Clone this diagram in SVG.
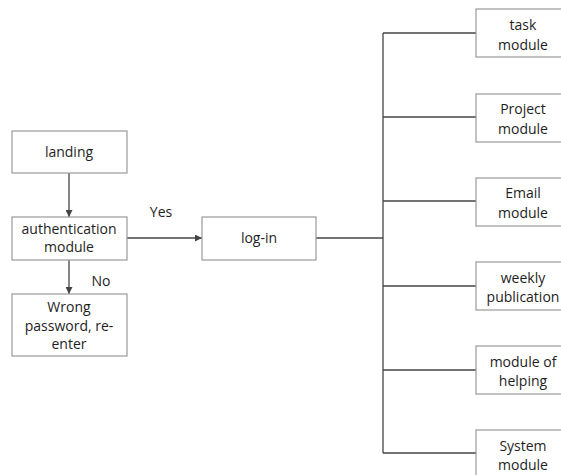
<svg xmlns="http://www.w3.org/2000/svg" width="561" height="475" viewBox="0 0 561 475">
  <style>
    .box { fill: #ffffff; stroke: #9a9a9a; stroke-width: 1.2; }
    .lbl { font-family: "Open Sans", "Liberation Sans", sans-serif; font-size: 14px; fill: #1e1e1e; text-anchor: middle; }
    .edge { fill: none; stroke: #444444; stroke-width: 1.3; }
  </style>
  <defs>
    <marker id="arrow" viewBox="0 0 10 10" refX="10" refY="5" markerWidth="7" markerHeight="7" markerUnits="userSpaceOnUse" orient="auto">
      <path d="M0,0 L10,5 L0,10 z" fill="#444444"/>
    </marker>
  </defs>
  <rect width="561" height="475" fill="#ffffff"/>

  <g id="connectors">
    <line class="edge" x1="69" y1="173" x2="69" y2="217" marker-end="url(#arrow)"/>
    <line class="edge" x1="69" y1="260" x2="69" y2="294" marker-end="url(#arrow)"/>
    <line class="edge" x1="127" y1="238" x2="202" y2="238" marker-end="url(#arrow)"/>
    <line class="edge" x1="316" y1="238" x2="383" y2="238"/>
    <line class="edge" x1="383" y1="33" x2="383" y2="453"/>
    <line class="edge" x1="383" y1="33" x2="476" y2="33"/>
    <line class="edge" x1="383" y1="117" x2="476" y2="117"/>
    <line class="edge" x1="383" y1="201" x2="476" y2="201"/>
    <line class="edge" x1="383" y1="286" x2="476" y2="286"/>
    <line class="edge" x1="383" y1="370" x2="476" y2="370"/>
    <line class="edge" x1="383" y1="453" x2="476" y2="453"/>
    <text class="lbl" x="161" y="217">Yes</text>
    <text class="lbl" x="101" y="286">No</text>
  </g>

  <g id="landing">
    <rect class="box" x="12" y="131" width="115" height="42"/>
    <text class="lbl" x="69" y="157">landing</text>
  </g>
  <g id="authentication">
    <rect class="box" x="12" y="217" width="115" height="43"/>
    <text class="lbl" x="69" y="234">authentication</text>
    <text class="lbl" x="69" y="252">module</text>
  </g>
  <g id="wrong-password">
    <rect class="box" x="12" y="294" width="115" height="62"/>
    <text class="lbl" x="69" y="312">Wrong</text>
    <text class="lbl" x="69" y="331">password, re-</text>
    <text class="lbl" x="69" y="349">enter</text>
  </g>
  <g id="log-in">
    <rect class="box" x="202" y="217" width="114" height="43"/>
    <text class="lbl" x="259" y="243">log-in</text>
  </g>

  <g id="task-module">
    <rect class="box" x="476" y="9" width="94" height="48"/>
    <text class="lbl" x="523" y="30">task</text>
    <text class="lbl" x="523" y="50">module</text>
  </g>
  <g id="project-module">
    <rect class="box" x="476" y="94" width="94" height="48"/>
    <text class="lbl" x="523" y="114">Project</text>
    <text class="lbl" x="523" y="134">module</text>
  </g>
  <g id="email-module">
    <rect class="box" x="476" y="178" width="94" height="48"/>
    <text class="lbl" x="523" y="198">Email</text>
    <text class="lbl" x="523" y="218">module</text>
  </g>
  <g id="weekly-publication">
    <rect class="box" x="476" y="262" width="94" height="48"/>
    <text class="lbl" x="523" y="283">weekly</text>
    <text class="lbl" x="523" y="302">publication</text>
  </g>
  <g id="helping-module">
    <rect class="box" x="476" y="346" width="94" height="48"/>
    <text class="lbl" x="523" y="367">module of</text>
    <text class="lbl" x="523" y="386">helping</text>
  </g>
  <g id="system-module">
    <rect class="box" x="476" y="430" width="94" height="48"/>
    <text class="lbl" x="523" y="451">System</text>
    <text class="lbl" x="523" y="470">module</text>
  </g>
</svg>
